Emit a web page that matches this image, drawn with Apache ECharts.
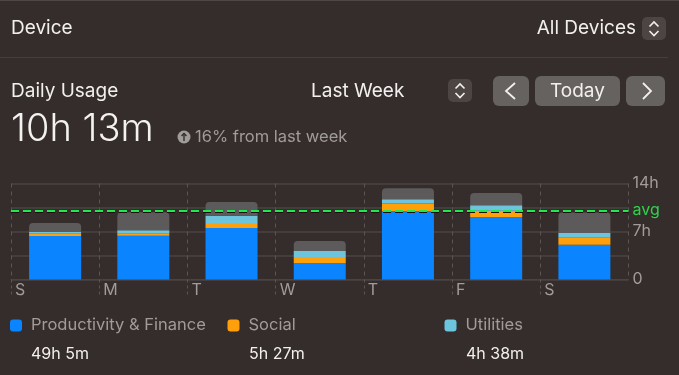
<!DOCTYPE html>
<html><head><meta charset="utf-8">
<style>html,body{margin:0;padding:0;background:#352d2c}#c{width:679px;height:375px}</style>
<script src="https://cdn.jsdelivr.net/npm/echarts@6/dist/echarts.min.js"></script>
</head><body><div id="c"></div>
<script>
const days = ['S','M','T','W','T','F','S'];
const productivity = [6.34,6.39,7.51,2.41,10.0,9.12,5.08];
const social = [0.34,0.34,0.73,0.88,1.07,0.92,1.07];
const utilities = [0.29,0.44,1.07,0.88,0.63,0.78,0.63];
const other = [1.26,2.63,2.0,1.46,1.6,1.8,3.0];
const avgHours = 10.05;
const yTicks = {0:'0',7:'7h',14:'14h'};
const legendNames = ['Productivity & Finance','Social','Utilities'];
const legendTotals = ['49h 5m','5h 27m','4h 38m'];
const colors = ['#0a84ff','#ff9f0a','#6cc5dd','#5c5a5a'];
const FONT = 'Inter, Roboto, sans-serif';
const GRID = '#4b4341', BG = '#352d2c', BTN = '#666260';

function bar(name, data, color, extra){
  return Object.assign({name, type:'bar', stack:'day', data, barWidth:52,
    xAxisIndex:0, yAxisIndex:0, itemStyle:{color}, emphasis:{disabled:true}}, extra||{});
}
function txt(x,y,text,size,fill,weight,align){
  return {type:'text',x,y,silent:true,style:{text,fill,font:(weight||400)+' '+size+'px '+FONT,textAlign:align||'left',textVerticalAlign:'middle'}};
}
function btn(x,y,w,h,r,fill){
  return {type:'rect',silent:true,shape:{x,y,width:w,height:h,r},style:{fill:fill||BTN}};
}
function chev(points,width){
  return {type:'polyline',silent:true,shape:{points},style:{fill:null,stroke:'#f2f0ef',lineWidth:width||1.6}};
}
function stepper(x,y){
  return [btn(x,y,24,23,5,'#4c4543'),
    chev([[x+7.5,y+9.5],[x+12,y+5],[x+16.5,y+9.5]]),
    chev([[x+7.5,y+14],[x+12,y+18.5],[x+16.5,y+14]])];
}
const graphic = [
  {type:'rect',silent:true,shape:{x:0,y:0,width:679,height:1},style:{fill:'#4f4745'}},
  {type:'rect',silent:true,shape:{x:0,y:57,width:668,height:1},style:{fill:'#463e3c'}},
  txt(11,28.5,'Device',19,'#f2f0ef'),
  txt(636,28.5,'All Devices',19,'#f2f0ef',400,'right'),
  ...stepper(642,17),
  txt(11,91,'Daily Usage',19,'#f2f0ef'),
  txt(311,91,'Last Week',19,'#f2f0ef'),
  ...stepper(448,79),
  btn(493,76,36,30,6), btn(535,76,85,30,6), btn(626,76,39,30,6),
  chev([[515,83],[506,91],[515,99]],1.8),
  chev([[643,83],[651,91],[643,99]],1.8),
  txt(577.5,91,'Today',19,'#f2f0ef',400,'center'),
  txt(11,130,'10h 13m',38,'#f4f2f1',300),
  {type:'circle',silent:true,shape:{cx:184,cy:137,r:6.5},style:{fill:'#a09c9a'}},
  {type:'polyline',silent:true,shape:{points:[[184,141],[184,133.5]]},style:{fill:null,stroke:BG,lineWidth:1.4}},
  {type:'polyline',silent:true,shape:{points:[[181.5,136],[184,133.5],[186.5,136]]},style:{fill:null,stroke:BG,lineWidth:1.4}},
  txt(195,137,'16% from last week',16.5,'#a09c9a'),
  txt(31,354,legendTotals[0],16,'#f2f0ef',400),
  txt(249,354,legendTotals[1],16,'#f2f0ef',400),
  txt(466,354,legendTotals[2],16,'#f2f0ef',400)
];
function legend(i,left){
  return {data:[legendNames[i]],left,top:317,itemWidth:12,itemHeight:12,icon:'roundRect',selectedMode:false,
    padding:0,textStyle:{color:'#a09c9a',fontSize:16.5,fontFamily:FONT,padding:[0,0,0,4]}};
}
const chart = echarts.init(document.getElementById('c'),null,{renderer:'canvas'});
chart.setOption({
  animation:false,
  backgroundColor:BG,
  color:colors,
  textStyle:{fontFamily:FONT},
  grid:{left:11,right:50.5,top:183.5,height:96},
  legend:[legend(0,10),legend(1,227.5),legend(2,444.5)],
  xAxis:[
    {type:'category',data:days,position:'bottom',axisLine:{show:false},axisTick:{show:false},axisLabel:{show:false}},
    {type:'value',min:0,max:7,interval:1,position:'bottom',
      axisLine:{show:true,lineStyle:{color:GRID,width:1}},
      axisTick:{show:true,inside:false,length:15,lineStyle:{color:'#5c5452',type:[3,3],width:1}},
      axisLabel:{show:true,margin:3,align:'left',color:'#a09c9a',fontSize:16,fontFamily:FONT,padding:[0,0,0,4],
        showMinLabel:true,showMaxLabel:false,formatter:v=>days[v]||''},
      splitLine:{show:true,lineStyle:{color:'#5c5452',type:[4,4],width:1}}}
  ],
  yAxis:{type:'value',min:0,max:14,interval:3.5,position:'right',
    axisLine:{show:false},axisTick:{show:false},
    axisLabel:{margin:4,color:'#a09c9a',fontSize:16,fontFamily:FONT,padding:[4,0,0,0],formatter:v=>yTicks[v]||''},
    splitLine:{show:true,lineStyle:{color:GRID,width:1.5}}},
  series:[
    bar(legendNames[0],productivity,colors[0]),
    bar(legendNames[1],social,colors[1]),
    bar(legendNames[2],utilities,colors[2]),
    bar('Other',other,colors[3],{itemStyle:{color:colors[3],borderRadius:[4,4,0,0]},
      markLine:{silent:true,symbol:'none',animation:false,z:10,
        data:[{yAxis:avgHours}],
        label:{position:'end',formatter:'avg',color:'#2fd24a',fontSize:16,fontFamily:FONT,distance:4},
        lineStyle:{color:'#1fe94c',type:[8,4],width:2,shadowColor:'#1a1010',shadowOffsetY:1,shadowBlur:0}}})
  ],
  graphic:{elements:graphic}
});
</script></body></html>
